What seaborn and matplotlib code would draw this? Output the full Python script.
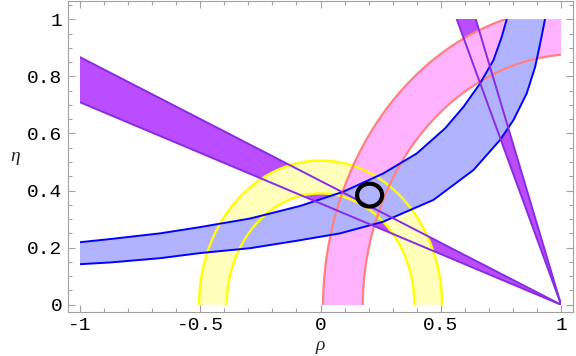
import numpy as np
import matplotlib
matplotlib.use("Agg")
import matplotlib.pyplot as plt
import seaborn as sns
from matplotlib.patches import Rectangle, Ellipse
from matplotlib.ticker import MultipleLocator, FuncFormatter

# |Vub/Vcb|: anillo centrado en el origen
vub_centro = (0.0, 0.0)
vub_radios = (0.39, 0.505)

# Delta M_d: anillo centrado cerca de (1, 0)
dmd_centro = (1.065, -0.012)
dmd_radios = (0.89, 1.055)

# epsilon_K: bordes de la banda
epsk_sup_rho = [-1.0, -0.875, -0.667, -0.5, -0.293, -0.085, 0.095, 0.261, 0.40,
                0.518, 0.594, 0.663, 0.719, 0.753, 0.774]
epsk_sup_eta = [0.219, 0.23, 0.25, 0.272, 0.302, 0.346, 0.396, 0.46, 0.53,
                0.618, 0.693, 0.775, 0.857, 0.938, 1.0]
epsk_inf_rho = [-1.0, -0.875, -0.667, -0.5, -0.293, -0.085, 0.081, 0.261, 0.469,
                0.636, 0.746, 0.802, 0.857, 0.892, 0.913, 0.933]
epsk_inf_eta = [0.142, 0.148, 0.163, 0.181, 0.198, 0.226, 0.25, 0.291, 0.367,
                0.472, 0.577, 0.647, 0.74, 0.833, 0.915, 1.0]

# sin(2 beta): rango permitido
sin2b = (0.63, 0.73)

# ajuste global (rho, eta) y tamano de la elipse
ajuste = (0.204, 0.384)
ajuste_tam = (0.104, 0.08)

# colores (relleno, borde)
c_vub = ("#FFFFBB", "#FFFF00")
c_dmd = ("#FFB3FF", "#FF8080")
c_epsk = ("#B2B3FF", "#0000FF")
c_beta = ("#BA4DFF", "#8A2BE2")


def anillo(centro, radios, n=400):
    t = np.linspace(0, np.pi, n)
    x_ext = centro[0] + radios[1] * np.cos(t)
    y_ext = centro[1] + radios[1] * np.sin(t)
    x_int = centro[0] + radios[0] * np.cos(t)
    y_int = centro[1] + radios[0] * np.sin(t)
    poly_x = np.concatenate([x_ext, x_int[::-1]])
    poly_y = np.concatenate([y_ext, y_int[::-1]])
    return (x_int, y_int), (x_ext, y_ext), (poly_x, poly_y)


sns.set_theme(style="ticks")
plt.rcParams["font.family"] = ["Liberation Mono", "DejaVu Sans Mono"]

fig, ax = plt.subplots(figsize=(5.76, 3.56), dpi=100)
fig.subplots_adjust(left=0.118, right=0.995, bottom=0.124, top=0.998)

# cunas de sin(2 beta): beta y 90 - beta, desde (1, 0)
betas = 0.5 * np.arcsin(np.array(sin2b))
pendientes_a = np.tan(betas)
pendientes_b = 1 / np.tan(betas)
rho_l = np.array([-1.0, 1.0])
for pend in (pendientes_a, pendientes_b):
    ax.fill([1, -1, -1], [0, pend[0] * 2, pend[1] * 2], color=c_beta[0], lw=0, zorder=1)

# anillos y banda
vub_int, vub_ext, vub_poly = anillo(vub_centro, vub_radios)
ax.fill(*vub_poly, color=c_vub[0], lw=0, zorder=2)
dmd_int, dmd_ext, dmd_poly = anillo(dmd_centro, dmd_radios)
ax.fill(*dmd_poly, color=c_dmd[0], lw=0, zorder=3)
ax.fill(epsk_sup_rho + epsk_inf_rho[::-1], epsk_sup_eta + epsk_inf_eta[::-1],
        color=c_epsk[0], lw=0, zorder=4)

# bordes
for xs, ys in (vub_int, vub_ext):
    sns.lineplot(x=xs, y=ys, sort=False, color=c_vub[1], lw=1.7, ax=ax, zorder=5)
for xs, ys in (dmd_int, dmd_ext):
    sns.lineplot(x=xs, y=ys, sort=False, color=c_dmd[1], lw=1.6, ax=ax, zorder=5)
sns.lineplot(x=epsk_sup_rho, y=epsk_sup_eta, sort=False, color=c_epsk[1], lw=1.4, ax=ax, zorder=6)
sns.lineplot(x=epsk_inf_rho, y=epsk_inf_eta, sort=False, color=c_epsk[1], lw=1.4, ax=ax, zorder=6)
for pend in np.concatenate([pendientes_a, pendientes_b]):
    sns.lineplot(x=rho_l, y=pend * (1 - rho_l), sort=False, color=c_beta[1], lw=1.4, ax=ax, zorder=7)

# recortar todo a la region [-1, 1] x [0, 1]
clip = Rectangle((-1, 0), 2, 1, transform=ax.transData)
for art in ax.lines + ax.patches + ax.collections:
    art.set_clip_path(clip)

ax.add_patch(Ellipse(ajuste, ajuste_tam[0], ajuste_tam[1], fill=False,
                     edgecolor="black", lw=3, zorder=10))

ax.set_xlim(-1.05, 1.05)
ax.set_ylim(-0.025, 1.065)
ax.xaxis.set_major_locator(MultipleLocator(0.5))
ax.xaxis.set_minor_locator(MultipleLocator(0.1))
ax.yaxis.set_major_locator(MultipleLocator(0.2))
ax.yaxis.set_minor_locator(MultipleLocator(0.05))
fmt = FuncFormatter(lambda v, p: "%g" % round(v, 2))
ax.xaxis.set_major_formatter(fmt)
ax.yaxis.set_major_formatter(fmt)

gris = "#a0a0a0"
ax.tick_params(which="both", direction="in", top=True, right=True, color=gris,
               labelsize=14, labelcolor="black", width=0.8)
ax.tick_params(which="major", length=5, pad=4)
ax.tick_params(which="minor", length=3)
for sp in ax.spines.values():
    sp.set_color(gris)
    sp.set_linewidth(0.8)

ax.set_xlabel("ρ", fontsize=14, fontstyle="italic", family="Liberation Serif")
ax.set_ylabel("η", fontsize=14, fontstyle="italic", family="Liberation Serif", rotation=0)
ax.xaxis.set_label_coords(0.5, -0.108)
ax.yaxis.set_label_coords(-0.105, 0.5)
ax.xaxis.label.set_va("center")
ax.yaxis.label.set_va("center")

fig.savefig("out.png", dpi=100)
